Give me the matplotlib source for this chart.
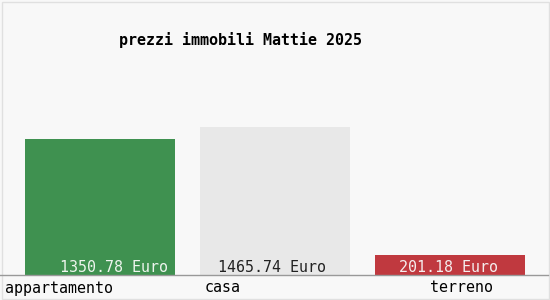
import matplotlib.pyplot as plt
from matplotlib.patches import Rectangle

categories = ["appartamento", "casa", "terreno"]
values = [1350.78, 1465.74, 201.18]
value_labels = ["1350.78 Euro", "1465.74 Euro", "201.18 Euro"]
bar_colors = ["#3f9150", "#e8e8e8", "#c0393f"]
text_colors = ["#eef5ee", "#222222", "#f5eeee"]
title = "prezzi immobili Mattie 2025"

W, H = 550, 300
fig = plt.figure(figsize=(W / 100, H / 100), dpi=100)
fig.patch.set_facecolor("#f8f8f8")

# axes: bottom at the baseline (y=275 px), spans the whole width
ax = fig.add_axes([0, 1 - 275 / H, 1, 275 / H])
ax.set_facecolor("none")
ax.set_xlim(-100 / 175, 2 + 100 / 175)
ax.set_ylim(0, 2731)
ax.axis("off")

x = range(len(categories))
ax.bar(x, values, width=150 / 175, color=bar_colors)

mono = "DejaVu Sans Mono"
fs = 10.8
value_dx = [14, -3, -2]
for i, (lab, c) in enumerate(zip(value_labels, text_colors)):
    ax.annotate(lab, (i, 0), xytext=(value_dx[i], 7), textcoords="offset pixels",
                ha="center", va="center", fontsize=fs, family=mono, color=c)

label_dx = [-95, -70, -20]
for i, cat in enumerate(categories):
    ax.annotate(cat, (i, 0), xytext=(label_dx[i], -13), textcoords="offset pixels",
                ha="left", va="center", fontsize=fs, family=mono, color="#000000",
                annotation_clip=False)

fig.text(119 / W, 1 - 40 / H, title, ha="left", va="center", fontsize=fs,
         family=mono, fontweight="bold", color="#000000")

# baseline and faint frame
fig.add_artist(plt.Line2D([0, 548 / W], [1 - 275 / H] * 2, color="#999999", lw=1))
fig.add_artist(Rectangle((1.5 / W, 1.5 / H), 547 / W, 297 / H, fill=False,
                         edgecolor="#e0e0e0", lw=1, transform=fig.transFigure))

fig.savefig("out.png", dpi=100, facecolor=fig.get_facecolor())
